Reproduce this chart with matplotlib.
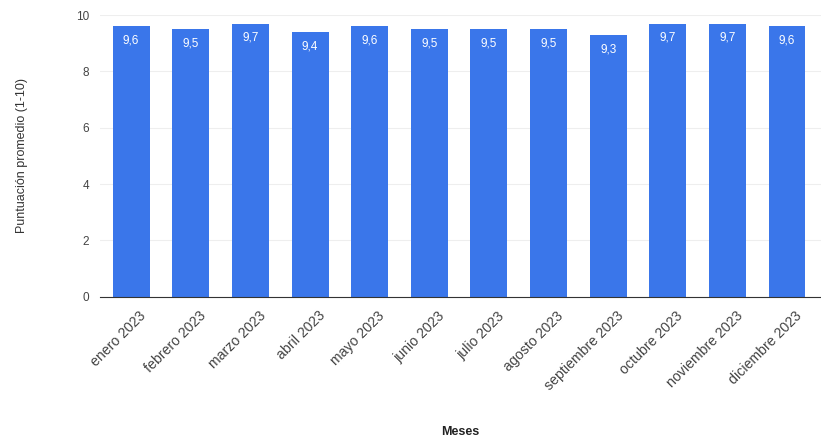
import matplotlib
matplotlib.use('Agg')
import matplotlib.pyplot as plt
import matplotlib.transforms as mtransforms

# data
meses = ['enero 2023', 'febrero 2023', 'marzo 2023', 'abril 2023', 'mayo 2023',
         'junio 2023', 'julio 2023', 'agosto 2023', 'septiembre 2023',
         'octubre 2023', 'noviembre 2023', 'diciembre 2023']
puntuacion = [9.6, 9.5, 9.7, 9.4, 9.6, 9.5, 9.5, 9.5, 9.3, 9.7, 9.7, 9.6]
yticks = [0, 2, 4, 6, 8, 10]

plt.rcParams['font.family'] = ['Liberation Sans', 'DejaVu Sans']

fig = plt.figure(figsize=(8.21, 4.43), dpi=100)
ax = fig.add_axes([0.122, 0.33, 0.878, 0.636])

x = range(len(meses))
bars = ax.bar(x, puntuacion, width=0.62, color='#3a76ea', zorder=2)

for b, v in zip(bars, puntuacion):
    ax.text(b.get_x() + b.get_width() / 2, v - 0.3, f'{v:.1f}'.replace('.', ','),
            ha='center', va='top', color='white', fontsize=8.5)

ax.set_xlim(-0.52, 11.57)
ax.set_ylim(0, 10)
ax.set_yticks(yticks)
ax.set_xticks(list(x))
ax.set_xticklabels(meses, rotation=45, ha='right', rotation_mode='anchor', fontsize=10.2, color='#444444')
ax.tick_params(axis='y', length=0, labelsize=8.5, labelcolor='#444444', pad=8)
ax.tick_params(axis='x', length=0, pad=5)

# nudge rotated labels so their ends sit just right of the bar centres
offset = mtransforms.ScaledTranslation(8 / 100, -5 / 100, fig.dpi_scale_trans)
for lbl in ax.get_xticklabels():
    lbl.set_transform(lbl.get_transform() + offset)

ax.yaxis.grid(True, color='#eeeeee', linewidth=0.8, zorder=0)
for s in ['top', 'right', 'left']:
    ax.spines[s].set_visible(False)
ax.spines['bottom'].set_color('#333333')

ax.set_ylabel('Puntuación promedio (1-10)', fontsize=9, color='#333333')
ax.yaxis.set_label_coords(-0.10, 0.5)
fig.text(0.56, 0.025, 'Meses', ha='center', va='center', fontsize=9, fontweight='bold', color='#222222')

fig.savefig('out.png', dpi=100)
